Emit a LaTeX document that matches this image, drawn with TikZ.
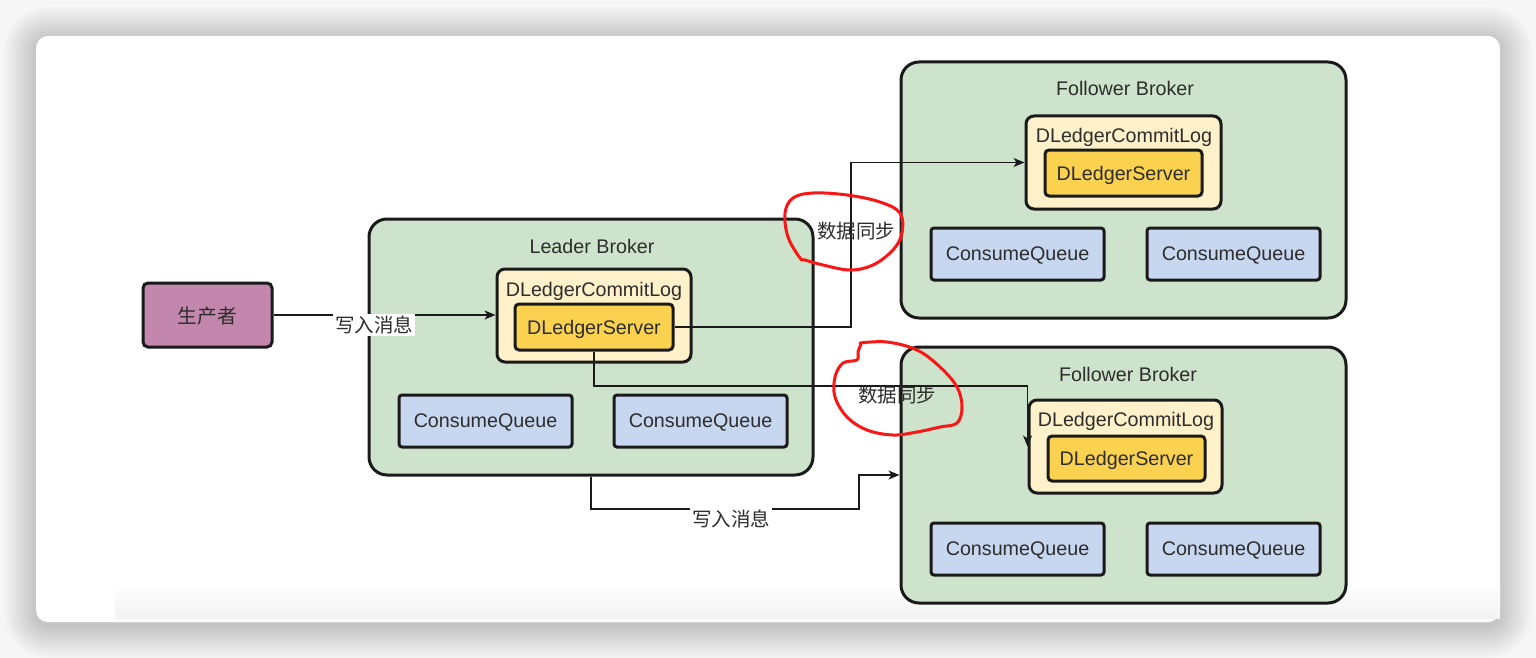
\documentclass[tikz,border=0pt]{standalone}
\usepackage{fontspec}
\setmainfont{Liberation Sans}
\newfontfamily\cjk{Noto Sans CJK SC}
\usetikzlibrary{arrows.meta,calc}
\definecolor{bgout}{RGB}{246,246,246}
\definecolor{edge}{RGB}{26,26,26}
\definecolor{txt}{RGB}{45,45,45}
\definecolor{grn}{RGB}{205,227,203}
\definecolor{ylight}{RGB}{255,241,201}
\definecolor{ydark}{RGB}{251,210,80}
\definecolor{blu}{RGB}{200,215,240}
\definecolor{pnk}{RGB}{195,135,173}
\definecolor{redpen}{RGB}{250,22,22}
\tikzset{
  base/.style={draw=edge, line width=3pt, text=txt, inner sep=0pt, text depth=0pt,
    font=\fontsize{19.7}{23}\selectfont},
  broker/.style={base, fill=grn, rounded corners=18pt},
  logbox/.style={base, fill=ylight, rounded corners=8pt},
  srvbox/.style={base, fill=ydark, rounded corners=4pt},
  cqbox/.style={base, fill=blu, rounded corners=3pt, minimum width=173pt, minimum height=52pt},
  prodbox/.style={base, fill=pnk, rounded corners=5pt},
  ttl/.style={text=txt, inner sep=0pt, text depth=0pt, font=\fontsize{19.7}{23}\selectfont},
  cjklbl/.style={text=txt, inner sep=2pt, font=\cjk\fontsize{19.5}{23}\selectfont},
  conn/.style={draw=edge, line width=1.5pt},
  arr/.style={conn, -{Stealth[length=11pt,width=9pt,inset=3pt]}},
  redmark/.style={draw=redpen, line width=3pt, line cap=round, line join=round}
}
\begin{document}
\begin{tikzpicture}[x=1pt,y=-1pt]
\useasboundingbox (0,0) rectangle (1536,658);
% page background and card shadow
\fill[bgout] (0,0) rectangle (1536,658);
\foreach \i in {1,...,16}{
  \fill[black, opacity=0.011, rounded corners=12pt+2*\i pt]
    ($(36,36)+(-2*\i,-2*\i+3)$) rectangle ($(1500,622)+(2*\i,2*\i+4)$);
}
\fill[white, rounded corners=12pt] (36,36) rectangle (1500,622);
\shade[top color=white, bottom color=black!5] (115,583) rectangle (1500,618);

% producer
\node[prodbox, minimum width=129pt, minimum height=64pt] (prod) at (207.5,315) {\cjk 生产者};

% leader broker
\node[broker, minimum width=444pt, minimum height=256pt] (lb) at (591,347) {};
\node[ttl] (lbt) at (592,246) {Leader Broker};
\node[logbox, minimum width=194pt, minimum height=93pt] (cl) at (594,315.5) {};
\node[ttl] (clt) at (594,289) {DLedgerCommitLog};
\node[srvbox, minimum width=158pt, minimum height=46pt] (srv) at (594,327) {DLedgerServer};
\node[cqbox] (lq1) at (485.5,421) {ConsumeQueue};
\node[cqbox] (lq2) at (700.5,421) {ConsumeQueue};

% follower broker 1
\node[broker, minimum width=445pt, minimum height=256pt] (fb1) at (1123.5,190) {};
\node[ttl] (fb1t) at (1125,88) {Follower Broker};
\node[logbox, minimum width=195pt, minimum height=93pt] (fcl1) at (1123.5,162.5) {};
\node[ttl] (fcl1t) at (1124,135) {DLedgerCommitLog};
\node[srvbox, minimum width=157pt, minimum height=46pt] (fsrv1) at (1123.5,173) {DLedgerServer};
\node[cqbox] (f1q1) at (1017.5,254) {ConsumeQueue};
\node[cqbox] (f1q2) at (1233.5,254) {ConsumeQueue};

% follower broker 2
\node[broker, minimum width=445pt, minimum height=256pt] (fb2) at (1123.5,475) {};
\node[ttl] (fb2t) at (1128,374) {Follower Broker};
\node[logbox, minimum width=193pt, minimum height=93pt] (fcl2) at (1125.5,446.5) {};
\node[ttl] (fcl2t) at (1126,419) {DLedgerCommitLog};
\node[srvbox, minimum width=157pt, minimum height=45pt] (fsrv2) at (1126.5,458.5) {DLedgerServer};
\node[cqbox] (f2q1) at (1017.5,549) {ConsumeQueue};
\node[cqbox] (f2q2) at (1233.5,549) {ConsumeQueue};

% connectors
\draw[arr] (prod.east) -- (prod.east -| cl.west);
\node[cjklbl, fill=white] (w1) at (374,325) {写入消息};

\coordinate (s1) at (851,327);
\draw[arr] (srv.east) -- (s1) |- (fcl1.west);
\node[cjklbl] (d1) at (856,231) {数据同步};

\coordinate (s2) at (594,386);
\draw[arr] (srv.south) -- (s2) -| (fcl2.west);
\node[cjklbl] (d2) at (897,395) {数据同步};

\coordinate (c4) at (859,509);
\draw[arr] (lb.south) |- (c4) |- (fb2.west);
\node[cjklbl, fill=white] (w2) at (731,519) {写入消息};

% red hand-drawn marks
\draw[redmark] plot[smooth cycle, tension=0.6] coordinates {
  (800,258) (788,237) (785,213) (793,198) (813,193) (847,195) (880,202)
  (900,213) (902,233) (893,250) (873,265) (850,270) (823,265) (805,260)};
\draw[redmark] plot[smooth, tension=0.6] coordinates {
  (860,343) (887,342) (917,350) (940,367) (957,387) (962,407) (957,423)
  (940,427) (917,432) (893,435) (867,430) (847,417) (835,397) (835,377)
  (843,363) (857,360) (858,352) (861,344)};
\end{tikzpicture}
\end{document}
